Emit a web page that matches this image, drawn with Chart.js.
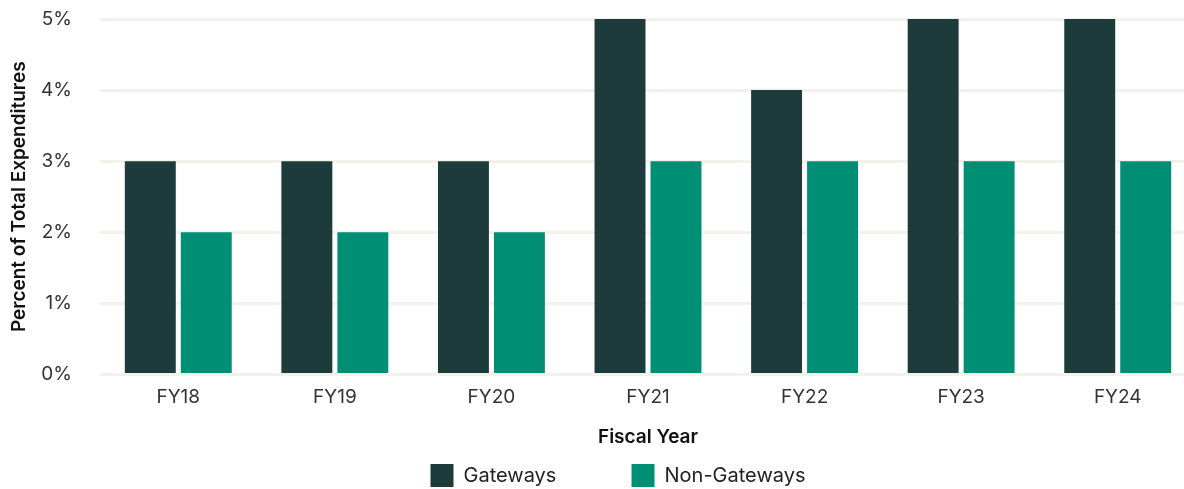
<!DOCTYPE html>
<html>
<head>
<meta charset="utf-8">
<script src="https://cdn.jsdelivr.net/npm/chart.js@4/dist/chart.umd.min.js"></script>
<style>
  html, body { margin: 0; padding: 0; background: #ffffff; overflow: hidden; }
  #wrap { width: 1236px; height: 489px; position: relative; }
</style>
</head>
<body>
<div id="wrap"><canvas id="chart"></canvas></div>
<script>
// Share of total expenditures by fiscal year
const fiscalYears = ['FY18', 'FY19', 'FY20', 'FY21', 'FY22', 'FY23', 'FY24'];
const gateways = [3, 3, 3, 5, 4, 5, 5];
const nonGateways = [2, 2, 2, 3, 3, 3, 3];
const yTicks = [0, 1, 2, 3, 4, 5];

const FONT = 'Inter, Roboto, "Liberation Sans", sans-serif';
const gridColor = '#f2f1ea';

// nudge the legend row to the right after layout
const legendShift = {
  id: 'legendShift',
  afterLayout(chart) {
    if (chart.legend) {
      chart.legend.left += 18;
      chart.legend.right += 18;
    }
  }
};

new Chart(document.getElementById('chart'), {
  type: 'bar',
  plugins: [legendShift],
  data: {
    labels: fiscalYears,
    datasets: [
      { label: 'Gateways', data: gateways, backgroundColor: '#1c3b3a',
        categoryPercentage: 0.715, barPercentage: 0.91 },
      { label: 'Non-Gateways', data: nonGateways, backgroundColor: '#008f75',
        categoryPercentage: 0.715, barPercentage: 0.91 }
    ]
  },
  options: {
    responsive: true,
    maintainAspectRatio: false,
    animation: false,
    layout: { padding: { top: 0, right: 40, bottom: -8, left: 4 } },
    plugins: {
      tooltip: { enabled: false },
      legend: {
        position: 'bottom',
        labels: {
          font: { family: FONT, size: 20 },
          color: '#222',
          boxWidth: 23,
          boxHeight: 23,
          padding: 2,
          generateLabels(chart) {
            const items = Chart.defaults.plugins.legend.labels.generateLabels(chart);
            // widen the gap after the first entry
            items[0].text = items[0].text + '             ';
            return items;
          }
        }
      }
    },
    scales: {
      x: {
        grid: { display: false, drawTicks: false },
        border: { display: false },
        ticks: { font: { family: FONT, size: 19 }, color: '#333', padding: 11 },
        title: { display: true, text: 'Fiscal Year', font: { family: FONT, size: 19, weight: '600' }, color: '#111', padding: { top: 7, bottom: 13 } }
      },
      y: {
        min: 0, max: 5,
        afterBuildTicks(axis) { axis.ticks = yTicks.map(v => ({ value: v })); },
        afterFit(axis) {
          axis.width = 96;
          axis.paddingTop = 19;
          axis.paddingBottom = 10;
        },
        grid: { color: gridColor, lineWidth: 3, drawTicks: false },
        border: { display: false },
        ticks: { font: { family: FONT, size: 19 }, color: '#333', padding: 28, callback: v => v + '%' },
        title: { display: true, text: 'Percent of Total Expenditures', font: { family: FONT, size: 19, weight: '600' }, color: '#111', padding: { top: 4, bottom: 0 } }
      }
    }
  }
});
</script>
</body>
</html>
